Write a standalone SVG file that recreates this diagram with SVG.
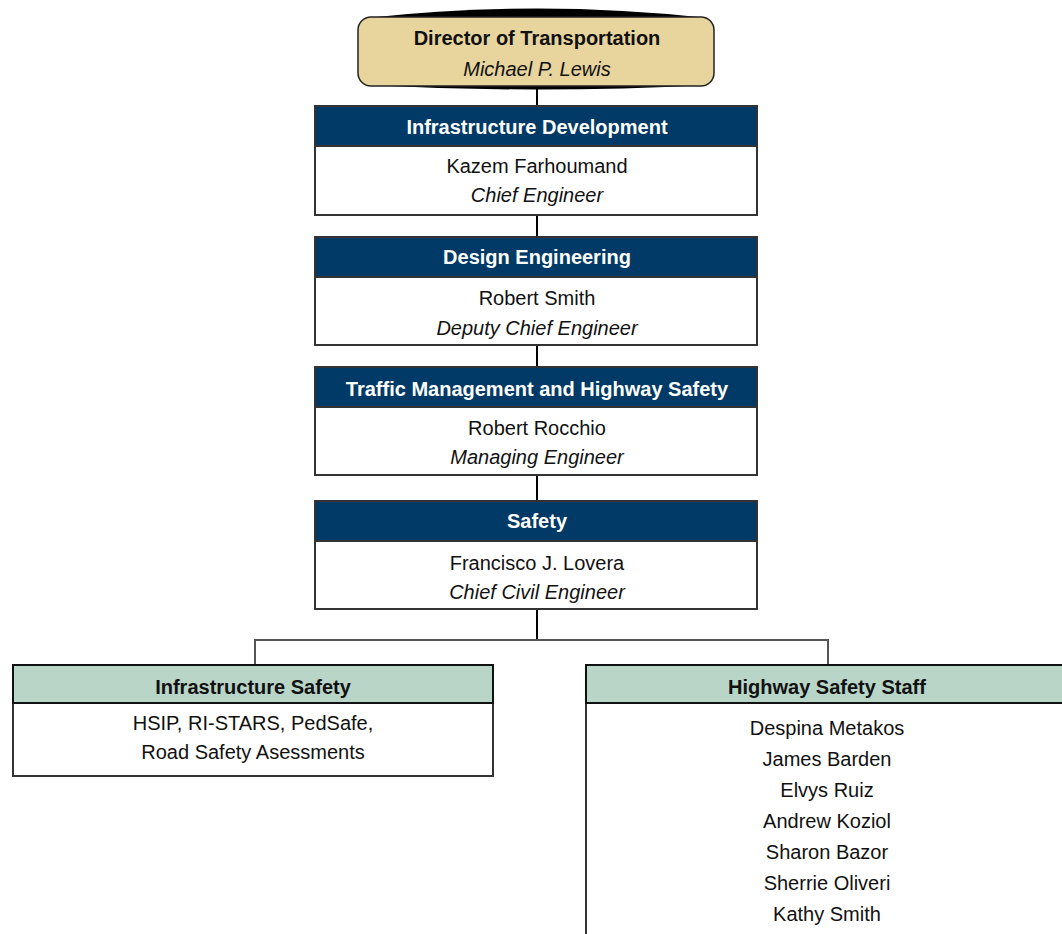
<svg xmlns="http://www.w3.org/2000/svg" width="1062" height="934" viewBox="0 0 1062 934">
<style>
text{font-family:"Liberation Sans Narrow","Arial Narrow","Liberation Sans",sans-serif;font-size:20px;text-anchor:middle;fill:#111}
.hb{font-weight:bold;fill:#fff}
.hd{font-weight:bold;fill:#111}
.it{font-style:italic}
.navy{fill:#013A66;stroke:#333;stroke-width:2}
.green{fill:#B8D5C8;stroke:#111;stroke-width:2}
.body{fill:#fff;stroke:#333;stroke-width:2}
</style>
<rect width="1062" height="934" fill="#fff"/>
<g id="connectors" fill="none">
<line x1="537" y1="86" x2="537" y2="640" stroke="#000" stroke-width="2"/>
<polyline points="255,665 255,640 828,640 828,665" stroke="#555" stroke-width="2"/>
</g>
<g id="director">
<path d="M366,18 Q537,-1 708,18 L708,85 Q537,94 366,85 Z" fill="#000"/>
<rect x="358" y="17" width="356" height="69" rx="13" fill="#E8D59E" stroke="#222" stroke-width="1.5"/>
<text class="hd" x="537" y="45">Director of Transportation</text>
<text class="it" x="537" y="76">Michael P. Lewis</text>
</g>
<g id="infrastructure-development">
<rect class="navy" x="315" y="106" width="442" height="40"/>
<rect class="body" x="315" y="146" width="442" height="69"/>
<text class="hb" x="537" y="134">Infrastructure Development</text>
<text x="537" y="173">Kazem Farhoumand</text>
<text class="it" x="537" y="202">Chief Engineer</text>
</g>
<g id="design-engineering">
<rect class="navy" x="315" y="237" width="442" height="40"/>
<rect class="body" x="315" y="277" width="442" height="68"/>
<text class="hb" x="537" y="264">Design Engineering</text>
<text x="537" y="305">Robert Smith</text>
<text class="it" x="537" y="335">Deputy Chief Engineer</text>
</g>
<g id="traffic-management">
<rect class="navy" x="315" y="367" width="442" height="40"/>
<rect class="body" x="315" y="407" width="442" height="68"/>
<text class="hb" x="537" y="396">Traffic Management and Highway Safety</text>
<text x="537" y="435">Robert Rocchio</text>
<text class="it" x="537" y="464">Managing Engineer</text>
</g>
<g id="safety">
<rect class="navy" x="315" y="501" width="442" height="40"/>
<rect class="body" x="315" y="541" width="442" height="68"/>
<text class="hb" x="537" y="528">Safety</text>
<text x="537" y="570">Francisco J. Lovera</text>
<text class="it" x="537" y="599">Chief Civil Engineer</text>
</g>
<g id="infrastructure-safety">
<rect class="body" x="13" y="703" width="480" height="73"/>
<rect class="green" x="13" y="665" width="480" height="38"/>
<text class="hd" x="253" y="694">Infrastructure Safety</text>
<text x="253" y="730">HSIP, RI-STARS, PedSafe,</text>
<text x="253" y="759">Road Safety Asessments</text>
</g>
<g id="highway-safety-staff">
<rect class="body" x="586" y="703" width="490" height="250"/>
<rect class="green" x="586" y="665" width="490" height="38"/>
<text class="hd" x="827" y="694">Highway Safety Staff</text>
<text x="827" y="735">Despina Metakos</text>
<text x="827" y="766">James Barden</text>
<text x="827" y="797">Elvys Ruiz</text>
<text x="827" y="828">Andrew Koziol</text>
<text x="827" y="859">Sharon Bazor</text>
<text x="827" y="890">Sherrie Oliveri</text>
<text x="827" y="921">Kathy Smith</text>
</g>
</svg>
